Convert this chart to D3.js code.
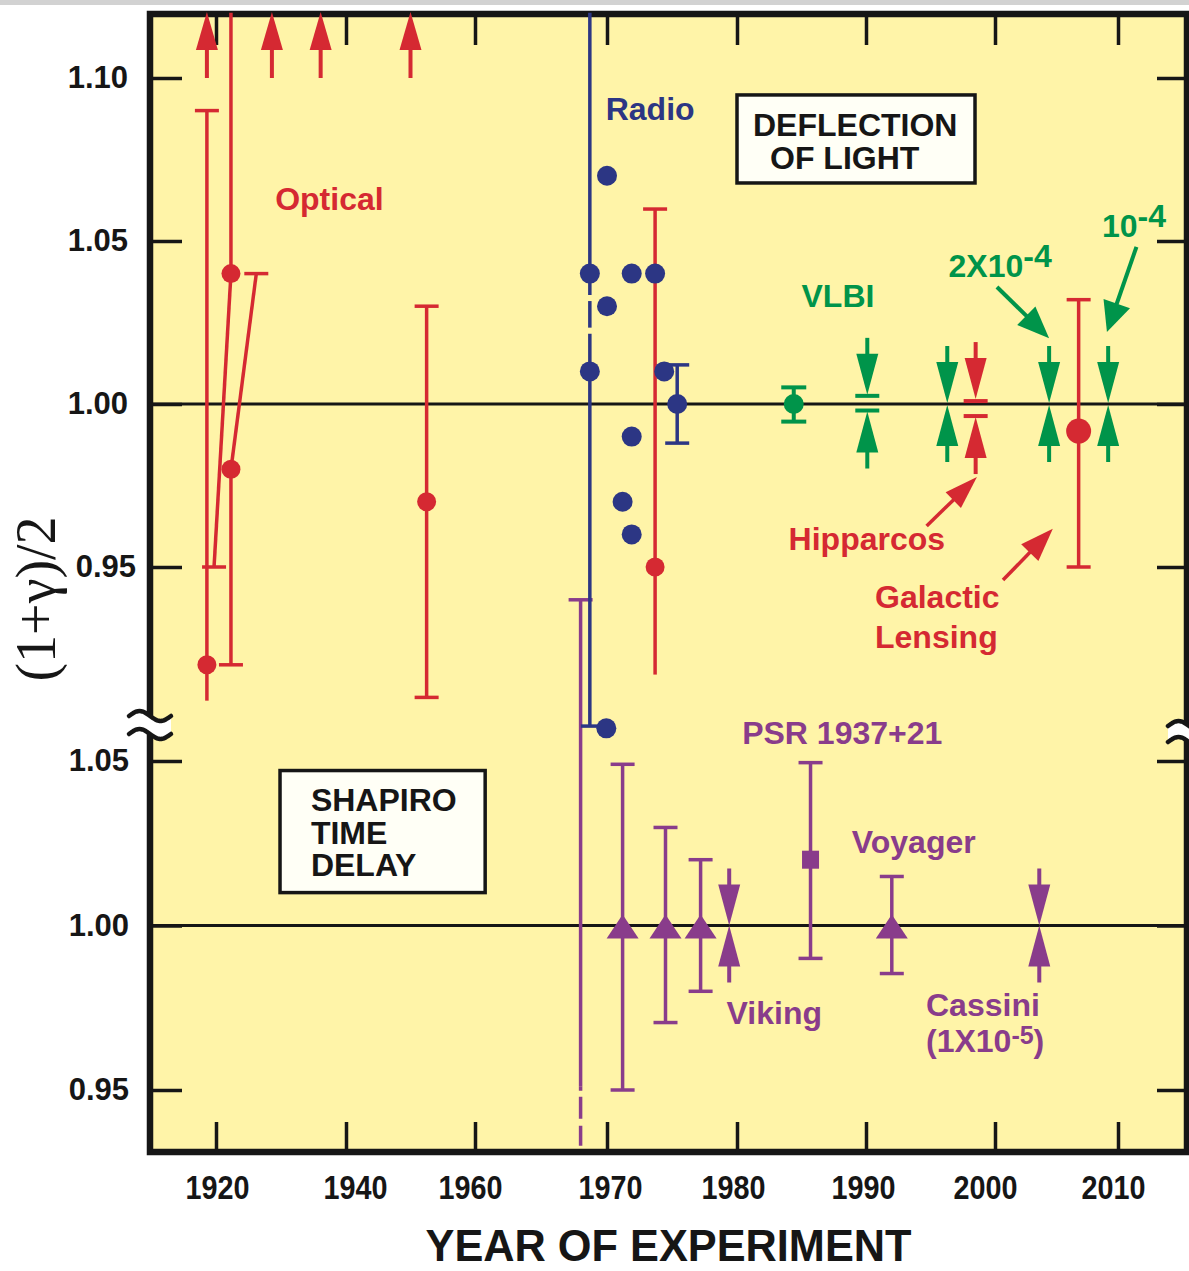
<!DOCTYPE html>
<html><head><meta charset="utf-8">
<script src="https://cdn.jsdelivr.net/npm/d3@7"></script>
<style>
html,body{margin:0;padding:0;background:#fff;}
svg{display:block;}
</style></head><body>
<svg id="chart" width="1189" height="1271"></svg>
<script>
// ---------------- DATA ----------------
const xTickYears = [1920, 1940, 1960, 1970, 1980, 1990, 2000, 2010];
const upperTickValues = [1.10, 1.05, 1.00, 0.95];
const lowerTickValues = [1.05, 1.00, 0.95];

// Optical deflection (red): lower limits drawn as arrows off the top
const opticalLimitYears = [1918.6, 1928.6, 1936.1, 1950.0];
const opticalLimitBase  = [1.10, 1.10, 1.10, 1.10];
// Optical points with (possibly slanted) error bars
const opticalYears    = [1918.6, 1922.3, 1922.3, 1952.5, 1973.7];
const opticalValues   = [0.920, 1.040, 0.980, 0.970, 0.950];
const opticalHiYears  = [1918.6, 1922.3, 1926.2, 1952.5, 1973.7];
const opticalHi       = [1.090, 1.120, 1.040, 1.030, 1.0598];
const opticalHiCap    = [true, false, true, true, true];
const opticalLoYears  = [1918.6, 1919.7, 1922.3, 1952.5, 1973.7];
const opticalLo       = [0.909, 0.950, 0.920, 0.910, 0.917];
const opticalLoCap    = [false, true, true, true, false];

// Radio (navy)
const radioYears  = [1968.7, 1968.7, 1970.0, 1970.0, 1971.9, 1973.7, 1971.9, 1971.2, 1971.9, 1974.4, 1975.4, 1969.95];
const radioValues = [1.040, 1.010, 1.070, 1.030, 1.040, 1.040, 0.990, 0.970, 0.960, 1.010, 1.000, 0.9005];
const radioBarYears = [1968.7, 1975.4];
const radioBarHi    = [1.120, 1.012];
const radioBarLo    = [0.9012, 0.988];
const radioBarHiCap = [false, true];
const radioBarGaps  = [1.0325, 1.0225];   // breaks in the long radio bar

// VLBI (green)
const vlbiPointYears = [1984.4];
const vlbiPointValues = [1.000];
const vlbiPointHi = [1.0051];
const vlbiPointLo = [0.9946];
const vlbiArrowYears = [1990.1, 1996.3, 2004.4, 2009.2];
const vlbiArrowHi    = [1.0025, 1.000, 1.000, 1.000];
const vlbiArrowLo    = [0.998, 1.000, 1.000, 1.000];

// Hipparcos (red arrows)
const hipYears = [1998.5];
const hipHi = [1.0009];
const hipLo = [0.9963];

// Galactic lensing (red large dot)
const lensYears = [2006.8];
const lensValues = [0.9917];
const lensHi = [1.032];
const lensLo = [0.950];

// Shapiro time delay (purple), lower panel
const shapiroTriYears  = [1971.2, 1974.5, 1977.2, 1992.0];
const shapiroTriValues = [1.000, 1.000, 1.000, 1.000];
const shapiroTriHi     = [1.049, 1.0298, 1.020, 1.0149];
const shapiroTriLo     = [0.950, 0.9705, 0.980, 0.9854];
const psrYears  = [1985.7];
const psrValues = [1.020];
const psrHi = [1.0495];
const psrLo = [0.990];
const shapiroArrowYears = [1979.4, 2003.6];
const shapiroArrowValues = [1.000, 1.000];
const shapiroLongYear = [1968.0];
const shapiroLongHi = [1.099];
const shapiroLongLo = [0.932];
const shapiroLongDashFrom = [0.951];

// ---------------- LAYOUT ----------------
const W = 1189, H = 1271;
const frame = {left:150, right:1187, top:14, bottom:1152};
const C = {red:"#d52932", navy:"#2c3684", green:"#00944a", purple:"#893c8b",
           black:"#161616", bg:"#fff4a8", box:"#fffff6"};
const FONT = '"Liberation Sans", Arial, Helvetica, sans-serif';

const x  = d3.scaleLinear().domain(xTickYears).range([216, 346, 475, 607, 737, 866, 995, 1118]);
const yU = d3.scaleLinear().domain([0.95, 1.10]).range([567, 78]);
const yL = d3.scaleLinear().domain([0.95, 1.05]).range([1090, 761]);

const svg = d3.select("#chart");

// screenshot strip at top
svg.append("rect").attr("x",0).attr("y",0).attr("width",W).attr("height",5).attr("fill","#d2d2d2");
// plot background
svg.append("rect").attr("x",frame.left).attr("y",frame.top)
  .attr("width",frame.right-frame.left).attr("height",frame.bottom-frame.top).attr("fill",C.bg);

// reference lines at 1.00
[yU(1), yL(1)].forEach(yy => svg.append("line")
  .attr("x1",frame.left).attr("x2",frame.right).attr("y1",yy).attr("y2",yy)
  .attr("stroke",C.black).attr("stroke-width",3));

// frame
svg.append("rect").attr("x",frame.left).attr("y",frame.top)
  .attr("width",frame.right-frame.left).attr("height",frame.bottom-frame.top)
  .attr("fill","none").attr("stroke",C.black).attr("stroke-width",6.5);

function styleAxis(g, fs){
  g.select(".domain").remove();
  g.selectAll(".tick line").attr("stroke",C.black).attr("stroke-width",3.5);
  g.selectAll(".tick text").attr("fill",C.black)
    .style("font-size",fs+"px").style("font-weight","bold").style("font-family",FONT);
}
const fmt2 = d3.format(".2f");
svg.append("g").attr("transform",`translate(${frame.left},0)`)
  .call(d3.axisLeft(yU).tickValues(upperTickValues).tickSize(-32).tickPadding(22).tickFormat(fmt2))
  .call(styleAxis, 31)
  .selectAll(".tick text").attr("dx", d => d === 0.95 ? 8 : 0);
svg.append("g").attr("transform",`translate(${frame.left},0)`)
  .call(d3.axisLeft(yL).tickValues(lowerTickValues).tickSize(-32).tickPadding(21).tickFormat(fmt2))
  .call(styleAxis, 31);
svg.append("g").attr("transform",`translate(${frame.right},0)`)
  .call(d3.axisRight(yU).tickValues(upperTickValues).tickSize(-30).tickFormat(""))
  .call(styleAxis, 10);
svg.append("g").attr("transform",`translate(${frame.right},0)`)
  .call(d3.axisRight(yL).tickValues(lowerTickValues).tickSize(-30).tickFormat(""))
  .call(styleAxis, 10);
svg.append("g").attr("transform",`translate(0,${frame.top})`)
  .call(d3.axisTop(x).tickValues(xTickYears).tickSize(-31).tickFormat(""))
  .call(styleAxis, 10);
const labelNudge = {1920:1, 1940:9, 1960:-5, 1970:3, 1980:-4, 1990:-3, 2000:-10, 2010:-5};
svg.append("g").attr("transform",`translate(0,${frame.bottom})`)
  .call(d3.axisBottom(x).tickValues(xTickYears).tickSize(-30).tickPadding(24).tickFormat(d3.format("d")))
  .call(styleAxis, 33)
  .selectAll(".tick text").attr("dx", d => labelNudge[d] || 0)
  .attr("textLength", 64).attr("lengthAdjust", "spacingAndGlyphs");

// axis titles
svg.append("text").attr("x",(frame.left+frame.right)/2).attr("y",1261)
  .attr("text-anchor","middle").attr("fill",C.black)
  .attr("textLength",486).attr("lengthAdjust","spacingAndGlyphs")
  .style("font-family",FONT).style("font-weight","bold").style("font-size","44px")
  .text("YEAR OF EXPERIMENT");
svg.append("text").attr("transform","translate(55,599) rotate(-90)")
  .attr("text-anchor","middle").attr("fill",C.black)
  .style("font-family",'"Liberation Serif", "Times New Roman", serif').style("font-size","56px")
  .text("(1+γ)/2");

// ---------------- helpers ----------------
const G = svg.append("g");
function seg(color, x1, y1, x2, y2, w){
  G.append("line").attr("x1",x1).attr("y1",y1).attr("x2",x2).attr("y2",y2)
   .attr("stroke",color).attr("stroke-width",w||3.5);
}
function cap(color, cx, cy, half, w){ seg(color, cx-half, cy, cx+half, cy, w); }
function dot(color, cx, cy, r){ G.append("circle").attr("cx",cx).attr("cy",cy).attr("r",r).attr("fill",color); }
function tri(color, cx, tipY, len, half){ // len>0: head below tip (points up); len<0 points down
  G.append("path").attr("d",`M${cx},${tipY}L${cx-half},${tipY+len}L${cx+half},${tipY+len}Z`).attr("fill",color);
}
function arrowPair(color, cx, yHi, yLo){
  tri(color, cx, yHi, -41, 11); seg(color, cx, yHi-40, cx, yHi-57, 4);
  tri(color, cx, yLo, 41, 11);  seg(color, cx, yLo+40, cx, yLo+57, 4);
}
function pointer(color, x1, y1, x2, y2, len, half, w){
  const a = Math.atan2(y2-y1, x2-x1), ux=Math.cos(a), uy=Math.sin(a);
  const bx = x2-ux*len, by = y2-uy*len;
  seg(color, x1, y1, bx+ux*2, by+uy*2, w);
  G.append("path").attr("d",`M${x2},${y2}L${bx-uy*half},${by+ux*half}L${bx+uy*half},${by-ux*half}Z`).attr("fill",color);
}
// multi-line / superscript label: lines = [[ [text, dy, size], ... ], ...]
function label(lines, px, py, color, lineGap){
  const t = svg.append("text").attr("x",px).attr("y",py).attr("fill",color)
    .style("font-family",FONT).style("font-weight","bold").style("font-size","32px");
  lines.forEach((parts, li) => {
    parts.forEach((p, pi) => {
      const ts = t.append("tspan").text(p[0]);
      if (pi === 0 && li > 0) ts.attr("x", px).attr("dy", lineGap + (p[1]||0));
      else if (p[1]) ts.attr("dy", p[1]);
      if (p[2]) ts.style("font-size", p[2] + "px");
    });
  });
  return t;
}
function box(x0, y0, x1, y1){
  svg.append("rect").attr("x",x0).attr("y",y0).attr("width",x1-x0).attr("height",y1-y0)
    .attr("fill",C.box).attr("stroke",C.black).attr("stroke-width",3.5);
}

// ---------------- boxes & labels ----------------
box(x(1980.0), yU(1.0948), x(1998.45), yU(1.0678));
label([[["DEFLECTION",0]]], x(1981.24), yU(1.0822), C.black);
label([[["OF LIGHT",0]]],   x(1982.56), yU(1.0721), C.black);
box(x(1929.85), yL(1.0471), x(1960.77), yL(1.0100));
label([[["SHAPIRO",0]],[["TIME",0]],[["DELAY",0]]], x(1934.6), yL(1.0347), C.black, 32.5);

label([[["Optical",0]]], x(1929.1), yU(1.0595), C.red);
label([[["Radio",0]]], x(1969.9), yU(1.0871), C.navy);
label([[["VLBI",0]]], x(1985.0), yU(1.0298), C.green);
label([[["2X10",0],["-4",-10]]], x(1996.4), yU(1.039), C.green);
label([[["10",0],["-4",-10]]], x(2008.7), yU(1.0513), C.green);
label([[["Hipparcos",0]]], x(1984.0), yU(0.9552), C.red);
label([[["Galactic",0]],[["Lensing",0]]], x(1990.7), yU(0.9373), C.red, 40);
label([[["PSR 1937+21",0]]], x(1980.4), yL(1.0553), C.purple);
label([[["Voyager",0]]], x(1988.9), yL(1.0219), C.purple);
label([[["Viking",0]]], x(1979.2), yL(0.9702), C.purple);
label([[["Cassini",0]]], x(1994.65), yL(0.9726), C.purple);
label([[["(1X10",0],["-5",-8,25],[")",8]]], x(1994.65), yL(0.9614), C.purple);

// ---------------- data marks ----------------
// Shapiro long bar (behind)
shapiroLongYear.forEach((yr,i)=>{
  const px = x(yr);
  seg(C.purple, px, yL(shapiroLongHi[i]), px, yL(shapiroLongDashFrom[i]), 3.5);
  G.append("line").attr("x1",px).attr("x2",px).attr("y1",yL(shapiroLongDashFrom[i])).attr("y2",yL(shapiroLongLo[i]))
    .attr("stroke",C.purple).attr("stroke-width",3.5).attr("stroke-dasharray","4,6,22,7,20,6");
  cap(C.purple, px, yL(shapiroLongHi[i]), 12);
});

// Radio bars
radioBarYears.forEach((yr,i)=>{
  const px = x(yr);
  const top = yU(radioBarHi[i]), bot = yU(radioBarLo[i]);
  if (i === 0) {
    const cuts = radioBarGaps.map(v => yU(v)).sort((a,b)=>a-b);
    let y0 = top;
    cuts.forEach(c => { seg(C.navy, px, y0, px, c-3, 3.5); y0 = c+3; });
    seg(C.navy, px, y0, px, bot, 3.5);
  } else {
    seg(C.navy, px, top, px, bot, 3.5);
  }
  if (radioBarHiCap[i]) cap(C.navy, px, top, 12);
  cap(C.navy, px, bot, i===0 ? 9 : 12);
});

// Optical limit arrows
opticalLimitYears.forEach((yr,i)=>{
  const px = x(yr), base = yU(opticalLimitBase[i]);
  tri(C.red, px, frame.top-2, 38, 11);
  seg(C.red, px, frame.top+34, px, base, 4);
});

// Optical error bars + points
opticalYears.forEach((yr,i)=>{
  const px = x(yr), py = yU(opticalValues[i]);
  const hx = x(opticalHiYears[i]), hy = yU(opticalHi[i]);
  const lx = x(opticalLoYears[i]), ly = yU(opticalLo[i]);
  seg(C.red, px, py, hx, hy, 3.5);
  seg(C.red, px, py, lx, ly, 3.5);
  if (opticalHiCap[i]) cap(C.red, hx, hy, 12);
  if (opticalLoCap[i]) cap(C.red, lx, ly, 12);
});
opticalYears.forEach((yr,i)=> dot(C.red, x(yr), yU(opticalValues[i]), 9.5));

// Radio points
radioYears.forEach((yr,i)=> dot(C.navy, x(yr), yU(radioValues[i]), 10));

// VLBI point
vlbiPointYears.forEach((yr,i)=>{
  const px = x(yr);
  seg(C.green, px, yU(vlbiPointHi[i]), px, yU(vlbiPointLo[i]), 4);
  cap(C.green, px, yU(vlbiPointHi[i]), 12.5, 4);
  cap(C.green, px, yU(vlbiPointLo[i]), 12.5, 4);
  dot(C.green, px, yU(vlbiPointValues[i]), 10);
});
// VLBI arrows
vlbiArrowYears.forEach((yr,i)=>{
  const px = x(yr), yh = yU(vlbiArrowHi[i]), yl = yU(vlbiArrowLo[i]);
  if (vlbiArrowHi[i] !== vlbiArrowLo[i]) { cap(C.green, px, yh, 12, 4); cap(C.green, px, yl, 12, 4); }
  arrowPair(C.green, px, yh-1, yl+1);
});
// Hipparcos arrows
hipYears.forEach((yr,i)=>{
  const px = x(yr), yh = yU(hipHi[i]), yl = yU(hipLo[i]);
  cap(C.red, px, yh, 12, 4); cap(C.red, px, yl, 12, 4);
  arrowPair(C.red, px, yh-2, yl+1);
});
// Galactic lensing
lensYears.forEach((yr,i)=>{
  const px = x(yr);
  seg(C.red, px, yU(lensHi[i]), px, yU(lensLo[i]), 3.5);
  cap(C.red, px, yU(lensHi[i]), 12);
  cap(C.red, px, yU(lensLo[i]), 12);
  dot(C.red, px, yU(lensValues[i]), 12.5);
});

// Shapiro triangles
shapiroTriYears.forEach((yr,i)=>{
  const px = x(yr), py = yL(shapiroTriValues[i]);
  seg(C.purple, px, yL(shapiroTriHi[i]), px, yL(shapiroTriLo[i]), 3.5);
  cap(C.purple, px, yL(shapiroTriHi[i]), 12);
  cap(C.purple, px, yL(shapiroTriLo[i]), 12);
  tri(C.purple, px, py-11, 24, 16);
});
// PSR
psrYears.forEach((yr,i)=>{
  const px = x(yr), py = yL(psrValues[i]);
  seg(C.purple, px, yL(psrHi[i]), px, yL(psrLo[i]), 3.5);
  cap(C.purple, px, yL(psrHi[i]), 12);
  cap(C.purple, px, yL(psrLo[i]), 12);
  G.append("rect").attr("x",px-8.5).attr("y",py-9).attr("width",17).attr("height",18).attr("fill",C.purple);
});
// Viking / Cassini arrows
shapiroArrowYears.forEach((yr,i)=>{
  const px = x(yr), py = yL(shapiroArrowValues[i]);
  arrowPair(C.purple, px, py, py);
});

// annotation pointers
pointer(C.green, x(2000.16), yU(1.0359), x(2004.4), yU(1.0202), 32, 13, 4);
pointer(C.green, x(2011.5),  yU(1.0482), x(2009.1), yU(1.0221), 30, 14, 4);
pointer(C.red,   x(1994.7),  yU(0.9626), x(1998.6), yU(0.9776), 33, 11, 3.5);
pointer(C.red,   x(2000.65), yU(0.9460), x(2004.7), yU(0.9617), 33, 12, 3.5);

// ---------------- axis break marks ----------------
function breakMark(x0, y1, y2, w, amp){
  const pts = yc => d3.range(0,25).map(i=>{const t=i/24; return [x0+t*w, yc-amp*Math.sin(2*Math.PI*t)];});
  const a = pts(y1), b = pts(y2);
  svg.append("path").attr("d", d3.line()(a.concat(b.slice().reverse()))+"Z").attr("fill","#ffffff");
  [a,b].forEach(p => svg.append("path").attr("d", d3.line().curve(d3.curveBasis)(p))
    .attr("fill","none").attr("stroke",C.black).attr("stroke-width",4.5).attr("stroke-linecap","round"));
}
breakMark(129, 716, 734, 42, 5);
breakMark(1168, 726, 742, 42, 5);
</script>
</body></html>
